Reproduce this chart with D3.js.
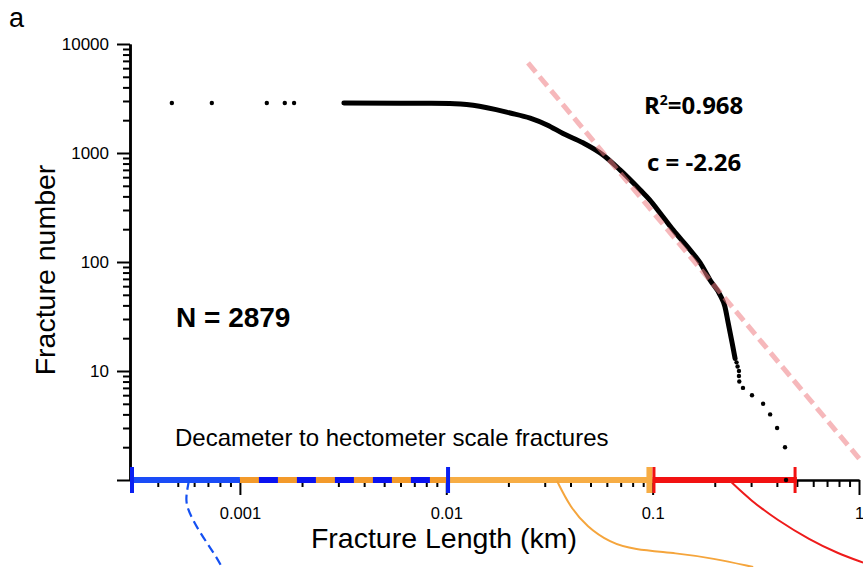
<!DOCTYPE html>
<html>
<head>
<meta charset="utf-8">
<script src="https://d3js.org/d3.v7.min.js"></script>
<style>
body{margin:0;background:#fff;}
svg text{font-family:"Liberation Sans",Arial,sans-serif;}
</style>
</head>
<body>
<div class="chart"></div>
<script>
// fracture length (km) / cumulative number
var sparseLength = [0.000468,0.000731,0.00135,0.00165,0.00183]
var sparseCount = [2879,2878,2877,2876,2875]

var curveLength = [0.00319,0.006,0.0104,0.0135,0.0204,0.0255,0.0308,0.0368,0.046,0.0575,0.0695,0.0869,0.097,0.1086,0.1256,0.152,0.170,0.190,0.212,0.224,0.232,0.243,0.251]
var curveCount = [2874,2865,2850,2740,2330,2090,1810,1510,1240,960,700,460,370,282,197,129,98,68,50,39,28,18,13]

var tailLength = [0.255,0.258,0.262,0.262,0.263,0.274,0.303,0.343,0.371,0.401,0.438,0.443]
var tailCount = [12,11,10,9,8,7,6,5,4,3,2,1]

// power law fit, c = -2.26
var fitLength = [0.0249,1.035]
var fitCount = [6700,1.46]

var yMajor = [1,10,100,1000,10000]
var yLabels = ["","10","100","1000","10000"]
var xMajor = [0.001,0.01,0.1,1]
var xLabels = ["0.001","0.01","0.1","1"]

// scale ranges shown on the axis (km)
var blueRange = [0.0003,0.001]
var blueDashRange = [0.001,0.01]
var orangeRange = [0.001,0.1]
var redRange = [0.1,0.5]
var blueCaps = [0.0003,0.0102]
var orangeCaps = [0.0965]
var redCaps = [0.1015,0.49]

// density-like curves hanging under the axis (0 = axis, 1 = bottom)
var blueCurveL = [0.000566,0.000547,0.000553,0.000592,0.00064,0.0007,0.000757,0.000818]
var blueCurveV = [0.01,0.195,0.31,0.46,0.60,0.74,0.86,1.0]
var orangeCurveL = [0.0344,0.0398,0.0481,0.0622,0.0804,0.131,0.196,0.307]
var orangeCurveV = [0.01,0.31,0.54,0.72,0.80,0.84,0.90,1.0]
var redCurveL = [0.237,0.297,0.401,0.579,0.783,1.047]
var redCurveV = [0.01,0.23,0.46,0.69,0.84,0.95]

function zip(a,b){ return a.map(function(d,i){return [d,b[i]]}) }

function fractureChart(){
	var width = 863, height = 567
	var svg = d3.select(".chart").append("svg").attr("width",width).attr("height",height)

	var x = d3.scaleLog().domain([0.0003,1]).range([132,859])
	var y = d3.scaleLog().domain([1,10000]).range([480,44])
	var down = d3.scaleLinear().domain([0,1]).range([480,567])

	var minorY = [], minorX = []
	;[1,10,100,1000].forEach(function(p){
		for(var k=2;k<10;k++){ minorY.push(k*p) }
	})
	;[0.0001,0.001,0.01,0.1].forEach(function(p){
		for(var k=2;k<10;k++){ if(k*p >= 0.0003-1e-9) minorX.push(k*p) }
	})

	// y axis
	var yAxisG = svg.append("g").attr("transform","translate(130,0)")
	yAxisG.call(d3.axisLeft(y).tickValues(yMajor).tickSize(13).tickSizeOuter(0).tickPadding(8)
		.tickFormat(function(d,i){return yLabels[i]}))
	yAxisG.append("g").call(d3.axisLeft(y).tickValues(minorY).tickSize(7).tickSizeOuter(0).tickFormat(""))
	yAxisG.selectAll("path").attr("stroke","#000").attr("stroke-width",2.5)
	yAxisG.selectAll("line").attr("stroke","#000").attr("stroke-width",2)
	yAxisG.selectAll("text").style("font-size","17px").attr("fill","#000")

	// x axis
	var xAxisG = svg.append("g").attr("transform","translate(0,480)")
	xAxisG.call(d3.axisBottom(x).tickValues(xMajor).tickSize(15).tickSizeOuter(0).tickPadding(12)
		.tickFormat(function(d,i){return xLabels[i]}))
	xAxisG.append("g").call(d3.axisBottom(x).tickValues(minorX).tickSize(7).tickSizeOuter(0).tickFormat(""))
	xAxisG.selectAll("path").attr("stroke","#000").attr("stroke-width",2)
	xAxisG.selectAll("line").attr("stroke","#000").attr("stroke-width",2)
	xAxisG.selectAll("text").style("font-size","16.5px").attr("fill","#000")

	// range bars on the x axis
	var barsG = svg.append("g").attr("class","bars")
	function bar(r,color,dash){
		var l = barsG.append("line")
		.attr("x1",x(r[0])).attr("x2",x(r[1]))
		.attr("y1",y(1)).attr("y2",y(1))
		.attr("stroke",color).attr("stroke-width",6)
		if(dash) l.attr("stroke-dasharray",dash)
		return l
	}
	bar(redRange,"#f21212")
	bar(orangeRange,"#f7ad45")
	bar([0.001,0.01],"#f39a2a")
	bar(blueRange,"#1a4cf7")
	bar(blueDashRange,"#0a12f0","19,19").attr("stroke-dashoffset",-19)
	function caps(list,color,w){
		barsG.selectAll(null).data(list).enter().append("line")
		.attr("x1",function(d){return x(d)}).attr("x2",function(d){return x(d)})
		.attr("y1",467).attr("y2",493)
		.attr("stroke",color).attr("stroke-width",w)
	}
	caps(blueCaps,"#0a20f2",4)
	caps(orangeCaps,"#f7ad45",6)
	caps(redCaps,"#f21212",3)

	// curves under the axis
	var under = d3.line().curve(d3.curveBasis)
		.x(function(d){return x(d[0])}).y(function(d){return down(d[1])})
	svg.append("path").attr("d",under(zip(blueCurveL,blueCurveV)))
		.attr("fill","none").attr("stroke","#1450f2").attr("stroke-width",2.2).attr("stroke-dasharray","9,5")
	svg.append("path").attr("d",under(zip(orangeCurveL,orangeCurveV)))
		.attr("fill","none").attr("stroke","#f5a53c").attr("stroke-width",2)
	svg.append("path").attr("d",under(zip(redCurveL,redCurveV)))
		.attr("fill","none").attr("stroke","#ee1b1b").attr("stroke-width",2)

	// data
	var dataG = svg.append("g").attr("class","data")
	var dense = d3.line().curve(d3.curveMonotoneX)
		.x(function(d){return x(d[0])}).y(function(d){return y(d[1])})
	dataG.append("path").attr("d",dense(zip(curveLength,curveCount)))
		.attr("fill","none").attr("stroke","#000").attr("stroke-width",5)
		.attr("stroke-linecap","round").attr("stroke-linejoin","round")
	dataG.selectAll("circle").data(zip(sparseLength,sparseCount).concat(zip(tailLength,tailCount))).enter()
	.append("circle")
	.attr("r",2.2)
	.attr("fill","#000")
	.attr("cx",function(d){return x(d[0])})
	.attr("cy",function(d){return y(d[1])})

	// fit line
	svg.append("line")
	.attr("x1",x(fitLength[0])).attr("y1",y(fitCount[0]))
	.attr("x2",x(fitLength[1])).attr("y2",y(fitCount[1]))
	.attr("stroke","#ee7d84").attr("stroke-opacity",0.55)
	.attr("stroke-width",5).attr("stroke-dasharray","12,6")

	// texts
	svg.append("text").attr("x",9).attr("y",27).style("font-size","27px").text("a")
	svg.append("text").attr("transform","translate(55,270) rotate(-90)")
		.attr("text-anchor","middle").style("font-size","28.5px").text("Fracture number")
	svg.append("text").attr("x",444).attr("y",548)
		.attr("text-anchor","middle").style("font-size","28.5px").text("Fracture Length (km)")
	svg.append("text").attr("x",176).attr("y",327)
		.style("font-size","28px").style("font-weight","bold").text("N = 2879")
	svg.append("text").attr("x",175).attr("y",446)
		.style("font-size","24px").text("Decameter to hectometer scale fractures")

	var r2 = svg.append("text").attr("x",644).attr("y",114)
		.style("font-family","'Open Sans',sans-serif").style("font-size","24px").style("font-weight","bold")
	r2.append("tspan").text("R")
	r2.append("tspan").attr("dy",-9).style("font-size","14px").text("2")
	r2.append("tspan").attr("dy",9).text("=0.968")
	svg.append("text").attr("x",647).attr("y",171)
		.style("font-family","'Open Sans',sans-serif").style("font-size","24px").style("font-weight","bold")
		.text("c = -2.26")
}
fractureChart()
</script>
</body>
</html>
